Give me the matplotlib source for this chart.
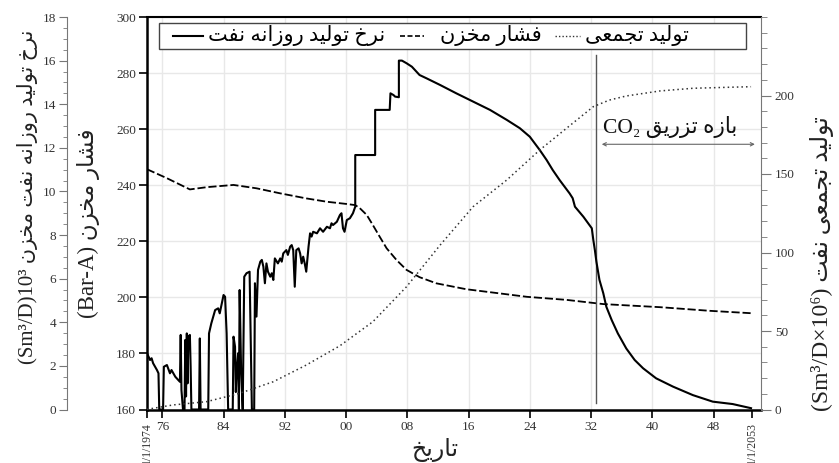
import matplotlib
matplotlib.use('Agg')
import matplotlib.pyplot as plt
from matplotlib.patches import Rectangle
from matplotlib.ticker import MultipleLocator

plt.rcParams['font.family'] = ['Liberation Serif', 'DejaVu Sans']

# daily oil rate (10^3 Sm3/D)
rate_years = [1974.0, 1974.0, 1974.2, 1974.4, 1974.6, 1974.8, 1975.3, 1975.5, 1975.6, 1976.1,
              1976.2, 1976.6, 1977.0, 1977.2, 1977.7, 1978.1, 1978.3, 1978.4, 1978.5, 1978.7,
              1978.9, 1979.0, 1979.1, 1979.2, 1979.3, 1979.4, 1979.6, 1979.7, 1979.8, 1980.8,
              1980.9, 1981.0, 1982.0, 1982.1, 1982.4, 1982.9, 1983.3, 1983.5, 1984.0, 1984.2,
              1984.4, 1984.6, 1985.2, 1985.3, 1985.5, 1985.6, 1985.7, 1985.9, 1986.0, 1986.1,
              1986.3, 1986.5, 1986.7, 1987.0, 1987.4, 1987.5, 1987.7, 1988.0, 1988.1, 1988.3,
              1988.5, 1988.8, 1989.0, 1989.2, 1989.4, 1989.6, 1989.8, 1990.1, 1990.3, 1990.5,
              1990.7, 1991.1, 1991.4, 1991.6, 1991.8, 1992.2, 1992.4, 1992.7, 1992.9, 1993.1,
              1993.3, 1993.5, 1993.8, 1994.0, 1994.2, 1994.4, 1994.6, 1994.8, 1995.1, 1995.3,
              1995.5, 1995.7, 1996.2, 1996.6, 1997.0, 1997.5, 1997.9, 1998.1, 1998.3, 1998.8,
              1999.2, 1999.4, 1999.6, 1999.8, 2000.1, 2000.5, 2000.9, 2001.2, 2001.2, 2003.8,
              2003.8, 2005.7, 2005.8, 2006.2, 2006.4, 2006.9, 2006.9, 2007.3, 2007.9, 2008.6,
              2009.2, 2009.6, 2010.5, 2012.3, 2014.4, 2016.6, 2018.8, 2021.0, 2022.7, 2024.0,
              2025.3, 2026.2, 2027.0, 2027.9, 2029.2, 2029.6, 2029.9, 2031.0, 2032.1, 2032.3,
              2032.5, 2032.7, 2033.1, 2033.6, 2034.0, 2034.7, 2035.5, 2036.6, 2037.7, 2038.8,
              2040.5, 2042.7, 2045.3, 2047.9, 2050.5, 2052.9]
rate_values = [0.0, 2.58, 2.42, 2.27, 2.35, 2.12, 1.81, 1.66, 0.0, 0.0,
               1.96, 2.04, 1.66, 1.81, 1.50, 1.35, 1.27, 3.42, 0.89, 0.0,
               0.0, 3.19, 0.6, 3.49, 1.2, 3.34, 3.42, 1.96, 0.0, 0.0,
               3.26, 0.0, 0.0, 3.49, 3.95, 4.56, 4.64, 4.41, 5.25, 5.17,
               3.49, 0.0, 0.0, 3.34, 2.88, 0.8, 1.66, 2.58, 0.0, 5.48,
               1.66, 0.0, 6.09, 6.25, 6.32, 4.26, 0.0, 0.0, 5.79, 4.26,
               6.40, 6.78, 6.86, 6.55, 5.79, 6.70, 6.32, 6.09, 6.25, 5.94,
               6.93, 6.70, 6.93, 6.78, 7.16, 7.31, 7.09, 7.47, 7.54, 7.31,
               5.63, 7.31, 7.39, 7.16, 6.70, 7.01, 6.70, 6.32, 7.47, 8.08,
               7.93, 8.15, 8.08, 8.31, 8.15, 8.38, 8.31, 8.54, 8.46, 8.61,
               8.92, 9.00, 8.31, 8.15, 8.69, 8.77, 9.00, 9.30, 11.67, 11.67,
               13.74, 13.74, 14.50, 14.42, 14.35, 14.32, 16.00, 16.00, 15.88, 15.72,
               15.49, 15.34, 15.19, 14.88, 14.50, 14.12, 13.74, 13.28, 12.90, 12.51,
               11.90, 11.44, 10.98, 10.52, 9.91, 9.69, 9.30, 8.84, 8.31, 7.77,
               7.31, 6.78, 5.94, 5.33, 4.71, 4.10, 3.49, 2.80, 2.27, 1.89,
               1.43, 1.05, 0.66, 0.36, 0.25, 0.06]

# reservoir pressure (Bar-A)
pres_years = [1974.0, 1976.6, 1979.6, 1981.8, 1985.3, 1988.3, 1991.4, 1994.8, 1997.5, 2000.1,
              2001.2, 2001.8, 2002.7, 2003.5, 2004.4, 2005.3, 2006.6, 2007.9, 2009.6, 2011.8,
              2015.7, 2020.1, 2023.6, 2028.8, 2033.6, 2041.0, 2047.5, 2053.2]
pres_values = [245.7, 242.5, 238.5, 239.3, 240.1, 238.9, 237.1, 235.3, 234.1, 233.3,
               232.9, 231.8, 229.4, 225.8, 221.6, 217.5, 213.3, 209.8, 207.2, 205.0,
               202.9, 201.4, 200.2, 199.1, 197.6, 196.5, 195.2, 194.3]

# cumulative oil production (10^6 Sm3)
cum_years = [1974.0, 1977.4, 1981.8, 1986.1, 1990.5, 1994.8, 1999.2, 2003.5, 2007.9, 2012.3,
             2016.6, 2021.0, 2025.3, 2029.6, 2032.3, 2034.4, 2036.6, 2041.0, 2045.3, 2049.7,
             2052.9]
cum_values = [0.1, 2.9, 5.0, 10.3, 17.7, 28.3, 40.6, 55.9, 78.2, 104.8,
              129.2, 146.2, 165.3, 182.3, 192.9, 197.1, 199.7, 202.9, 204.6, 205.2,
              205.6]

year_ticks = [1976, 1984, 1992, 2000, 2008, 2016, 2024, 2032, 2040, 2048]
year_labels = ['76', '84', '92', '00', '08', '16', '24', '32', '40', '48']
end_ticks = [1974, 2053]
end_labels = ['1/1/1974', '1/1/2053']

co2_start = 2032.6
co2_end = 2053.4

# --- minimal persian shaping (presentation forms + visual order) ---
FORMS = {
    '\u0627': ('\uFE8D', '\uFE8E', None, None),
    '\u0628': ('\uFE8F', '\uFE90', '\uFE91', '\uFE92'),
    '\u062A': ('\uFE95', '\uFE96', '\uFE97', '\uFE98'),
    '\u062C': ('\uFE9D', '\uFE9E', '\uFE9F', '\uFEA0'),
    '\u062E': ('\uFEA5', '\uFEA6', '\uFEA7', '\uFEA8'),
    '\u062F': ('\uFEA9', '\uFEAA', None, None),
    '\u0631': ('\uFEAD', '\uFEAE', None, None),
    '\u0632': ('\uFEAF', '\uFEB0', None, None),
    '\u0634': ('\uFEB5', '\uFEB6', '\uFEB7', '\uFEB8'),
    '\u0639': ('\uFEC9', '\uFECA', '\uFECB', '\uFECC'),
    '\u0641': ('\uFED1', '\uFED2', '\uFED3', '\uFED4'),
    '\u0642': ('\uFED5', '\uFED6', '\uFED7', '\uFED8'),
    '\u0644': ('\uFEDD', '\uFEDE', '\uFEDF', '\uFEE0'),
    '\u0645': ('\uFEE1', '\uFEE2', '\uFEE3', '\uFEE4'),
    '\u0646': ('\uFEE5', '\uFEE6', '\uFEE7', '\uFEE8'),
    '\u0647': ('\uFEE9', '\uFEEA', '\uFEEB', '\uFEEC'),
    '\u0648': ('\uFEED', '\uFEEE', None, None),
    '\u06CC': ('\uFBFC', '\uFBFD', '\uFBFE', '\uFBFF'),
    '\u06C0': ('\uFBA4', '\uFBA5', None, None),
}


def fa(s):
    out = []
    for i, ch in enumerate(s):
        if ch not in FORMS:
            out.append(ch)
            continue
        prev = s[i - 1] if i > 0 else ''
        nxt = s[i + 1] if i + 1 < len(s) else ''
        jp = prev in FORMS and FORMS[prev][2] is not None
        jn = nxt in FORMS and FORMS[ch][2] is not None
        iso, fin, ini, med = FORMS[ch]
        if jp and jn:
            out.append(med)
        elif jp:
            out.append(fin)
        elif jn:
            out.append(ini)
        else:
            out.append(iso)
    return ''.join(reversed(out))


W, H = 839, 463
fig = plt.figure(figsize=(W / 100, H / 100), dpi=100)
ax = fig.add_axes([147 / W, 1 - 409.5 / H, 614 / W, 392.5 / H])
ax_rate = ax.twinx()
ax_cum = ax.twinx()

ink = '#333333'
gray = '#777777'

# pressure (main axis)
ax.plot(pres_years, pres_values, color='black', lw=1.3, ls=(0, (4.5, 1.6)))
ax.set_xlim(1974.0, 2054.2)
ax.set_ylim(160, 300)
ax.yaxis.set_major_locator(MultipleLocator(20))
ax.set_xticks(year_ticks)
ax.set_xticklabels(year_labels)
ax.set_xticks(end_ticks, minor=True)
ax.set_xticklabels(end_labels, minor=True, rotation=90, fontsize=8.5, color=ink)
ax.tick_params(axis='x', which='major', direction='out', length=6, width=1.2,
               labelsize=9.5, labelcolor=ink, pad=2)
ax.tick_params(axis='x', which='minor', direction='out', length=6, width=1.2, pad=3)
ax.tick_params(axis='y', direction='out', length=6, width=1.2, labelsize=9.5,
               labelcolor=ink, pad=2)
ax.grid(True, which='major', color='#e8e8e8', lw=1)
ax.set_axisbelow(True)
ax.spines['right'].set_visible(False)
for s in ['left', 'bottom']:
    ax.spines[s].set_linewidth(1.8)
ax.spines['top'].set_linewidth(1.5)

# CO2 injection period
ax.plot([co2_start, co2_start], [162.3, 286.4], color='#555555', lw=1)
ax.annotate('', xy=(co2_end, 254.6), xytext=(co2_start + 0.8, 254.6),
            arrowprops=dict(arrowstyle='<->', color='#666666', lw=0.8,
                            mutation_scale=6, shrinkA=0, shrinkB=0))
ax.text(2042.3, 260.8, 'CO\u2082 ' + fa('بازه تزریق'), ha='center', va='center',
        fontsize=15.5, color='#111111')

# daily rate (outer left axis)
ax_rate.plot(rate_years, rate_values, color='black', lw=1.5)
ax_rate.set_ylim(0, 18)
ax_rate.spines['left'].set_position(('axes', -80 / 614))
ax_rate.spines['left'].set_visible(True)
ax_rate.spines['left'].set_color(gray)
for s in ['right', 'top', 'bottom']:
    ax_rate.spines[s].set_visible(False)
ax_rate.yaxis.set_ticks_position('left')
ax_rate.yaxis.set_major_locator(MultipleLocator(2))
ax_rate.yaxis.set_minor_locator(MultipleLocator(0.5))
ax_rate.tick_params(axis='y', which='major', direction='out', length=6, color=gray,
                    labelsize=9.5, labelcolor=ink, pad=2)
ax_rate.tick_params(axis='y', which='minor', direction='out', length=3, color=gray)

# cumulative (right axis)
ax_cum.plot(cum_years, cum_values, color='#333333', lw=1.1, ls=(0, (1, 2)))
ax_cum.set_ylim(0, 250)
ax_cum.set_yticks([0, 50, 100, 150, 200])
ax_cum.yaxis.set_minor_locator(MultipleLocator(10))
ax_cum.spines['right'].set_color(gray)
for s in ['left', 'top', 'bottom']:
    ax_cum.spines[s].set_visible(False)
ax_cum.tick_params(axis='y', which='major', direction='out', length=7, color=gray,
                   labelsize=9.5, labelcolor=ink, pad=3)
ax_cum.tick_params(axis='y', which='minor', direction='out', length=4, color=gray)

# legend drawn by hand (rtl order)
def fx(px):
    return (px - 147) / 614


def fy(py):
    return (409.5 - py) / 392.5


ax_cum.add_patch(Rectangle((fx(159), fy(49)), fx(746) - fx(159), fy(22.5) - fy(49),
                           transform=ax_cum.transAxes, facecolor='white',
                           edgecolor='#444444', lw=1, zorder=5))
ly = fy(36)
ax_cum.plot([fx(173), fx(203)], [ly, ly], transform=ax_cum.transAxes, color='black',
            lw=1.5, zorder=6)
ax_cum.text(fx(208), ly, fa('نرخ تولید روزانه نفت'), transform=ax_cum.transAxes,
            ha='left', va='center', fontsize=15, zorder=6)
ax_cum.plot([fx(400), fx(424)], [ly, ly], transform=ax_cum.transAxes, color='black',
            lw=1.2, ls=(0, (3, 1.5)), zorder=6)
ax_cum.text(fx(440), ly, fa('فشار مخزن'), transform=ax_cum.transAxes,
            ha='left', va='center', fontsize=15, zorder=6)
ax_cum.plot([fx(555), fx(580)], [ly, ly], transform=ax_cum.transAxes, color='#333333',
            lw=1, ls=(0, (1, 1.5)), zorder=6)
ax_cum.text(fx(585), ly, fa('تولید تجمعی'), transform=ax_cum.transAxes,
            ha='left', va='center', fontsize=15, zorder=6)

# axis titles (latin part + persian part in one string, visual order)
lab = '#222222'
fig.text(28 / W, 1 - 364 / H, '(Sm\u00b3/D)10\u00b3 ' + fa('نرخ تولید روزانه نفت مخزن'),
         rotation=90, ha='center', va='bottom', fontsize=15, color=lab)
fig.text(89 / W, 1 - 318 / H, '(Bar-A) ' + fa('فشار مخزن'), rotation=90,
         ha='center', va='bottom', fontsize=16.5, color=lab)
fig.text(822 / W, 1 - 411 / H, '(Sm\u00b3/D\u00d710\u2076) ' + fa('تولید تجمعی نفت'),
         rotation=90, ha='center', va='bottom', fontsize=17, color=lab)
fig.text(435 / W, 1 - 450 / H, fa('تاریخ'), ha='center', va='center', fontsize=17,
         color=lab)

fig.savefig('out.png', dpi=100)
